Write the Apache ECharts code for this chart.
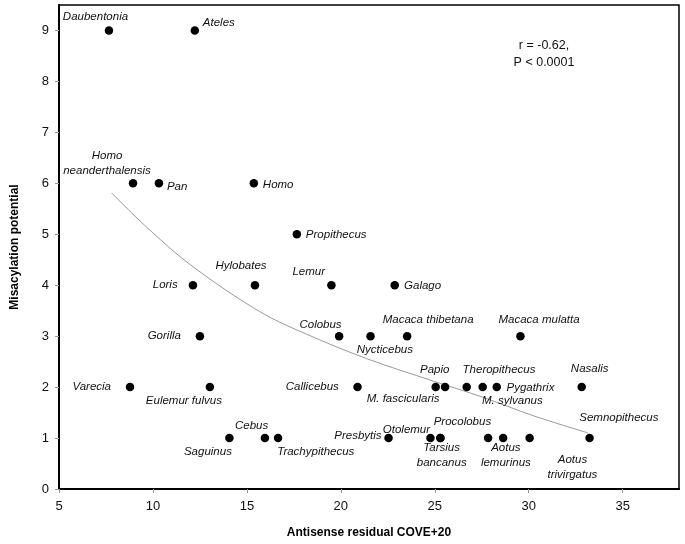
<!DOCTYPE html>
<html>
<head>
<meta charset="utf-8">
<script src="https://cdn.jsdelivr.net/npm/echarts@6/dist/echarts.min.js"></script>
<style>
  html, body { margin: 0; padding: 0; background: #fff; }
  #chart { width: 685px; height: 544px; }
</style>
</head>
<body>
<div id="chart"></div>
<script>
// ---- data ----
const species = [
  'Daubentonia', 'Ateles',
  'Homo\nneanderthalensis', 'Pan', 'Homo',
  'Propithecus',
  'Loris', 'Hylobates', 'Lemur', 'Galago',
  'Gorilla', 'Colobus', 'Nycticebus', 'Macaca thibetana', 'Macaca mulatta',
  'Varecia', 'Eulemur fulvus', 'Callicebus', 'Papio', 'M. fascicularis', 'Theropithecus', 'M. sylvanus', 'Pygathrix', 'Nasalis',
  'Saguinus', 'Cebus', 'Trachypithecus', 'Presbytis', 'Otolemur', 'Procolobus', 'Tarsius\nbancanus', '', 'Aotus\nlemurinus', 'Aotus\ntrivirgatus', 'Semnopithecus'
];
const antisenseResidual = [
  7.66, 12.23,
  8.94, 10.32, 15.37,
  17.66,
  12.13, 15.43, 19.50, 22.87,
  12.50, 19.91, 21.58, 23.53, 29.56,
  8.78, 13.03, 20.89, 25.05, 25.55, 26.70, 27.55, 28.30, 32.82,
  14.07, 15.96, 16.66, 22.54, 24.77, 25.30, 25.30, 27.84, 28.64, 30.05, 33.24
];
const misacylation = [
  9, 9,
  6, 6, 6,
  5,
  4, 4, 4, 4,
  3, 3, 3, 3, 3,
  2, 2, 2, 2, 2, 2, 2, 2, 2,
  1, 1, 1, 1, 1, 1, 1, 1, 1, 1, 1
];
// fitted trend curve
const trendX = [7.80, 9.84, 12.14, 15.69, 18.17, 21.37, 24.91, 27.57, 30.23, 33.16];
const trendY = [5.81, 5.08, 4.36, 3.48, 3.04, 2.56, 2.12, 1.80, 1.44, 1.10];
const xTicks = [5, 10, 15, 20, 25, 30, 35];
const yTicks = [0, 1, 2, 3, 4, 5, 6, 7, 8, 9];
const statText = ['r = -0.62,', 'P < 0.0001'];

// ---- label placement (layout only): [align, dx, dy] relative to dot centre ----
const labelPlacement = [
  ['center', -13.5, -13.5], ['left', 8, -8],
  ['center', -26, -20], ['left', 8, 3], ['left', 9, 1.5],
  ['left', 9, 1],
  ['right', -15.3, 0], ['center', -14, -19], ['center', -22.7, -13], ['left', 9.3, 1],
  ['right', -19, 0], ['center', -18.6, -11.7], ['center', 14.3, 13.7], ['center', 21, -16.3], ['center', 18.6, -16.3],
  ['right', -19, 0], ['center', -26, 14], ['right', -18.7, 0], ['center', -1, -17], ['center', -42, 11.3], ['center', 32.3, -17], ['center', 29.7, 13.7], ['left', 9.7, 0.7], ['center', 8, -18],
  ['center', -21.5, 13.4], ['center', -13.3, -12.7], ['center', 37.7, 13.7], ['right', -7, -2.6], ['center', -24, -8.3], ['center', 22, -16], ['center', 1.3, 17], ['center', 0, 0], ['center', 2.7, 17.2], ['center', 42.8, 29], ['center', 29.3, -20]
];

const FONT = '"Liberation Sans", Arial, Helvetica, sans-serif';
const DOT = 8.5;

const scatterData = species.map((name, i) => {
  const p = labelPlacement[i];
  return {
    name: name,
    value: [antisenseResidual[i], misacylation[i]],
    label: {
      show: name !== '',
      position: [DOT / 2 + p[1], DOT / 2 + p[2]],
      align: p[0],
      verticalAlign: 'middle'
    }
  };
});

const chart = echarts.init(document.getElementById('chart'), null, { renderer: 'canvas' });
chart.setOption({
  backgroundColor: '#ffffff',
  animation: false,
  grid: {
    left: 59, top: 5, right: 6, bottom: 49,
    show: true, borderColor: '#000', borderWidth: 1.5, backgroundColor: 'transparent'
  },
  xAxis: {
    type: 'value', min: xTicks[0], max: 38, interval: 5,
    name: 'Antisense residual COVE+20',
    nameLocation: 'middle', nameGap: 38,
    nameTextStyle: { fontFamily: FONT, fontSize: 12, fontWeight: 'bold', color: '#000' },
    axisLine: { show: true, onZero: false, lineStyle: { color: '#000', width: 2 } },
    axisTick: { show: true, length: 4, lineStyle: { color: '#999' } },
    axisLabel: {
      margin: 11, fontFamily: FONT, fontSize: 13, color: '#111', showMaxLabel: false,
      formatter: v => (xTicks.indexOf(v) >= 0 ? String(v) : '')
    },
    splitLine: { show: false }
  },
  yAxis: {
    type: 'value', min: yTicks[0], max: 9.5, interval: 1,
    name: 'Misacylation potential',
    nameLocation: 'middle', nameGap: 38, nameRotate: 90,
    nameTextStyle: { fontFamily: FONT, fontSize: 12, fontWeight: 'bold', color: '#000' },
    axisLine: { show: true, onZero: false, lineStyle: { color: '#000', width: 2 } },
    axisTick: { show: true, length: 4, lineStyle: { color: '#999' } },
    axisLabel: {
      margin: 10, fontFamily: FONT, fontSize: 13, color: '#111', showMaxLabel: false,
      formatter: v => (yTicks.indexOf(v) >= 0 ? String(v) : '')
    },
    splitLine: { show: false }
  },
  series: [
    {
      type: 'line',
      data: trendX.map((x, i) => [x, trendY[i]]),
      smooth: 0.35,
      showSymbol: false,
      symbol: 'none',
      lineStyle: { color: '#9a9a9a', width: 1 },
      z: 1,
      silent: true
    },
    {
      type: 'scatter',
      data: scatterData,
      symbol: 'circle',
      symbolSize: DOT,
      itemStyle: { color: '#000', opacity: 1 },
      label: {
        formatter: '{b}',
        fontFamily: FONT, fontSize: 11.5, fontStyle: 'italic', color: '#111',
        lineHeight: 15
      },
      labelLayout: { hideOverlap: false },
      z: 3
    }
  ],
  graphic: [
    {
      type: 'text',
      x: 544, y: 37,
      style: {
        text: statText.join('\n'),
        fontFamily: FONT, fontSize: 12.5, fill: '#111',
        textAlign: 'center', textVerticalAlign: 'top', lineHeight: 17
      },
      z: 10
    }
  ]
});
</script>
</body>
</html>
